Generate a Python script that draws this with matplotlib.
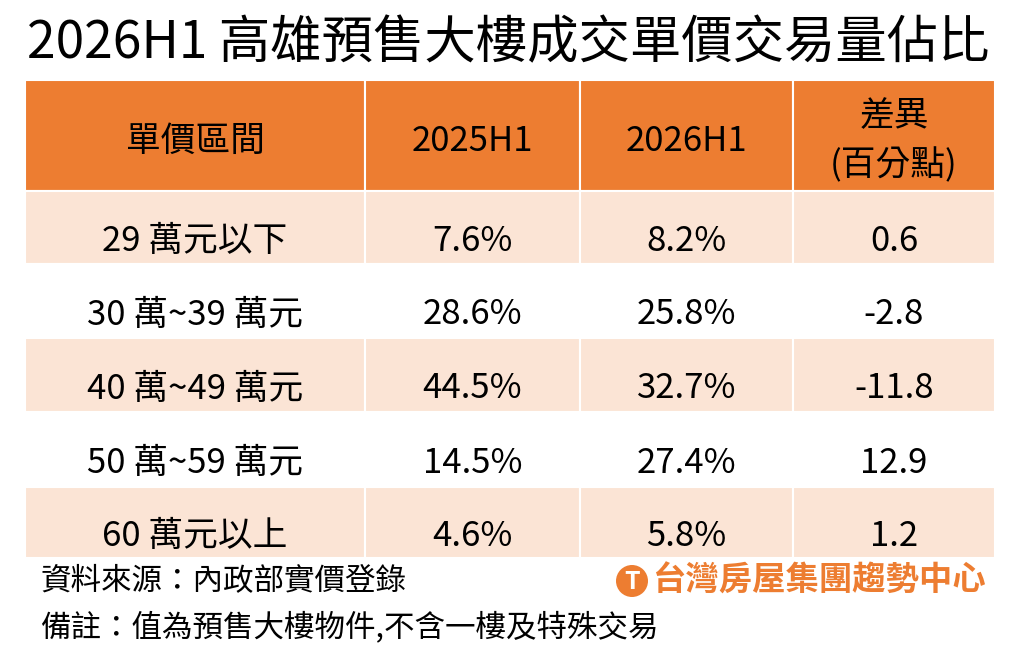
import matplotlib.pyplot as plt
from matplotlib.patches import Rectangle, Circle

plt.rcParams['font.family'] = ['Noto Sans CJK TC', 'DejaVu Sans']

title = "2026H1 高雄預售大樓成交單價交易量佔比"
headers = ["單價區間", "2025H1", "2026H1", "差異\n(百分點)"]
ranges = ["29 萬元以下", "30 萬~39 萬元", "40 萬~49 萬元", "50 萬~59 萬元", "60 萬元以上"]
share_2025 = ["7.6%", "28.6%", "44.5%", "14.5%", "4.6%"]
share_2026 = ["8.2%", "25.8%", "32.7%", "27.4%", "5.8%"]
diff = ["0.6", "-2.8", "-11.8", "12.9", "1.2"]
source = "資料來源：內政部實價登錄"
note = "備註：值為預售大樓物件,不含一樓及特殊交易"
brand = "台灣房屋集團趨勢中心"

orange = "#ED7D31"
pink = "#FBE4D5"

fig = plt.figure(figsize=(10.24, 6.54), dpi=100)
ax = fig.add_axes([0, 0, 1, 1])
ax.set_xlim(0, 1024)
ax.set_ylim(654, 0)
ax.axis('off')

ax.text(508, 44, title, ha='center', va='center', fontsize=37, color='black', fontweight='medium')

col_x = [25, 365, 580, 793, 995]
row_y = [80, 191, 264, 338, 412, 487, 558]

rows = [headers] + [list(r) for r in zip(ranges, share_2025, share_2026, diff)]
for i, row in enumerate(rows):
    y0, y1 = row_y[i], row_y[i + 1]
    if i == 0:
        fc = orange
    elif i % 2 == 1:
        fc = pink
    else:
        fc = "white"
    for j, txt in enumerate(row):
        x0, x1 = col_x[j], col_x[j + 1]
        ax.add_patch(Rectangle((x0, y0), x1 - x0, y1 - y0, facecolor=fc,
                               edgecolor='white', linewidth=1.5))
        dy = 6 if i == 0 else 14
        ax.text((x0 + x1) / 2, (y0 + y1) / 2 + dy, txt, ha='center', va='center',
                fontsize=25, color='black', linespacing=1.5)

ax.text(40, 582, source, ha='left', va='center', fontsize=22)
ax.text(40, 627, note, ha='left', va='center', fontsize=22)

ax.add_patch(Circle((632, 581), 16, facecolor=orange, edgecolor='none'))
ax.text(632, 582, "T", ha='center', va='center', fontsize=18, color='white', fontweight='bold')
ax.text(652, 581, brand, ha='left', va='center', fontsize=24, color=orange, fontweight='bold')

fig.savefig("out.png", dpi=100)
